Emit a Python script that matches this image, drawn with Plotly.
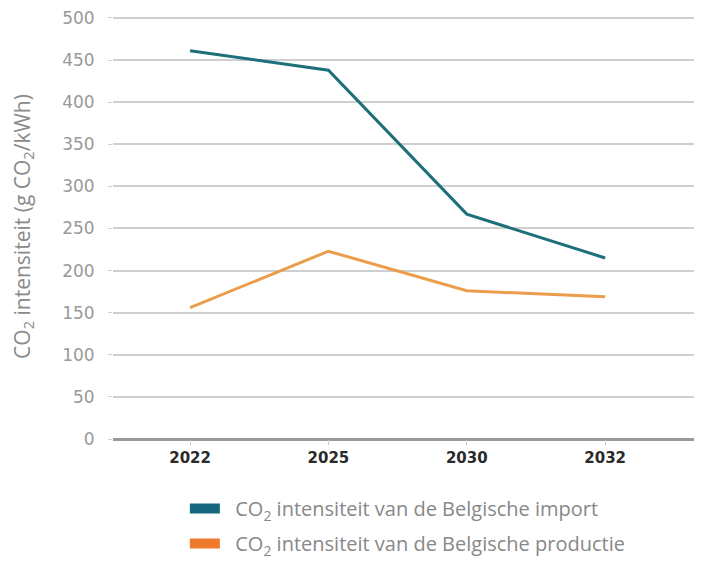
import plotly.graph_objects as go

years = ["2022", "2025", "2030", "2032"]
import_vals = [461, 438, 267, 215]
prod_vals = [156, 223, 176, 169]
y_ticks = [0, 50, 100, 150, 200, 250, 300, 350, 400, 450, 500]
name_import = "\u00a0\u00a0CO<sub>2</sub> intensiteit van de Belgische import"
name_prod = "\u00a0\u00a0CO<sub>2</sub> intensiteit van de Belgische productie"

teal_line = "#1d6f7a"
teal_leg = "#17687f"
orange_line = "#eb9d4c"
orange_leg = "#f07a2c"

fig = go.Figure()
fig.add_trace(go.Scatter(x=years, y=import_vals, mode="lines",
                         line=dict(color=teal_line, width=3), showlegend=False))
fig.add_trace(go.Scatter(x=years, y=prod_vals, mode="lines",
                         line=dict(color=orange_line, width=3), showlegend=False))
fig.add_trace(go.Scatter(x=[None], y=[None], mode="lines", name=name_import,
                         legendgroup="a", line=dict(color=teal_leg, width=10)))
fig.add_trace(go.Scatter(x=[None], y=[None], mode="lines", name=name_prod,
                         legendgroup="b", line=dict(color=orange_leg, width=10)))

fig.update_layout(
    width=694, height=555,
    margin=dict(l=105, r=0, t=4, b=124),
    plot_bgcolor="white", paper_bgcolor="white",
    font=dict(family="Open Sans", color="#888888"),
    xaxis=dict(type="category", range=[-0.557, 3.70], showgrid=False,
               tickfont=dict(family="DejaVu Sans", size=15, color="#2a2a2a", weight="bold"),
               ticks="outside", ticklen=5, tickcolor="#cccccc", showline=False),
    yaxis=dict(range=[0, 504.7], tickvals=y_ticks, showgrid=True, gridcolor="#cfcfcf",
               gridwidth=1.5, zeroline=True, zerolinecolor="#9a9a9a", zerolinewidth=2.5,
               tickfont=dict(family="DejaVu Sans", size=17, color="#999999"),
               ticks="outside", ticklen=4, tickcolor="#cfcfcf",
               ticklabelstandoff=10, ticklabeloverflow="allow",
               title=dict(text="CO<sub>2</sub> intensiteit (g CO<sub>2</sub>/kWh)",
                          font=dict(family="Open Sans", size=21, color="#8a8a8a"),
                          standoff=33)),
    legend=dict(orientation="v", x=0.122, xanchor="left", y=-0.118, yanchor="top",
                font=dict(family="Open Sans", size=20, color="#888888"),
                itemsizing="trace", tracegroupgap=6),
)

fig.write_html("out.html")
